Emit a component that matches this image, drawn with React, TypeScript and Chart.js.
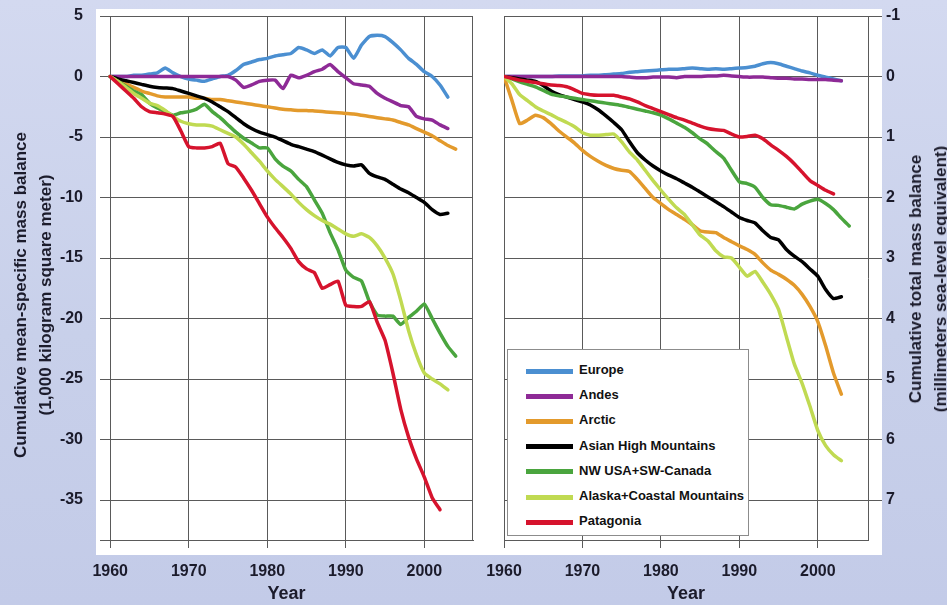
import React, { useEffect, useRef } from 'react';
import { Chart, registerables } from 'chart.js';

Chart.register(...registerables);

// ---- data ---------------------------------------------------------------

const years = [
  1960, 1961, 1962, 1963, 1964, 1965, 1966, 1967, 1968, 1969,
  1970, 1971, 1972, 1973, 1974, 1975, 1976, 1977, 1978, 1979,
  1980, 1981, 1982, 1983, 1984, 1985, 1986, 1987, 1988, 1989,
  1990, 1991, 1992, 1993, 1994, 1995, 1996, 1997, 1998, 1999,
  2000, 2001, 2002, 2003, 2004,
];

const yearTicks = [1960, 1970, 1980, 1990, 2000];
const specificTicks = [5, 0, -5, -10, -15, -20, -25, -30, -35];
const totalTicks = [-1, 0, 1, 2, 3, 4, 5, 6, 7];

const regions = [
  'Europe',
  'Andes',
  'Arctic',
  'Asian High Mountains',
  'NW USA+SW-Canada',
  'Alaska+Coastal Mountains',
  'Patagonia',
];

const regionColors = ['#4b8fd1', '#8e2a96', '#e39a2c', '#000000', '#4aa53e', '#c0da52', '#d6132d'];

// Cumulative mean-specific mass balance (1,000 kg per square meter)
const specificEurope = [
  0, 0, 0, 0.1, 0.1, 0.2, 0.3, 0.7, 0.3, 0,
  -0.2, -0.3, -0.4, -0.2, 0, 0.1, 0.5, 1.0, 1.2, 1.4,
  1.5, 1.7, 1.8, 1.9, 2.4, 2.2, 1.9, 2.2, 1.7, 2.4,
  2.4, 1.5, 2.6, 3.3, 3.4, 3.3, 2.8, 2.2, 1.5, 1.0,
  0.4, 0.0, -0.7, -1.7, null,
];
const specificAndes = [
  0, 0, 0, 0, 0, 0, 0, 0, 0, 0,
  0, 0, 0, 0, 0, 0, -0.3, -0.9, -0.7, -0.4,
  -0.3, -0.3, -1.0, 0.1, -0.1, 0.1, 0.4, 0.6, 1.0, 0.4,
  -0.1, -0.6, -0.7, -0.8, -1.4, -1.8, -2.1, -2.4, -2.5, -3.3,
  -3.5, -3.6, -4.0, -4.3, null,
];
const specificArctic = [
  0, -0.3, -0.6, -0.9, -1.2, -1.4, -1.6, -1.7, -1.7, -1.7,
  -1.7, -1.8, -1.8, -1.9, -1.9, -2.0, -2.1, -2.2, -2.3, -2.4,
  -2.5, -2.6, -2.7, -2.75, -2.8, -2.8, -2.85, -2.9, -2.95, -3.0,
  -3.05, -3.1, -3.2, -3.3, -3.4, -3.5, -3.6, -3.8, -4.0, -4.3,
  -4.6, -4.9, -5.3, -5.7, -6.0,
];
const specificAsia = [
  0, -0.2, -0.35, -0.5, -0.65, -0.8, -0.9, -0.95, -1.0, -1.2,
  -1.4, -1.6, -1.8, -2.1, -2.5, -2.9, -3.4, -3.9, -4.3, -4.6,
  -4.8, -5.0, -5.3, -5.6, -5.8, -6.0, -6.2, -6.5, -6.8, -7.1,
  -7.3, -7.4, -7.3, -8.0, -8.3, -8.5, -8.9, -9.3, -9.6, -10.0,
  -10.4, -11.0, -11.4, -11.3, null,
];
const specificNwUsa = [
  0, -0.4, -0.8, -1.2, -1.5, -2.2, -2.6, -2.9, -3.2, -3.0,
  -2.9, -2.7, -2.3, -2.9, -3.4, -4.0, -4.6, -5.1, -5.5, -5.9,
  -5.9, -6.8, -7.4, -7.8, -8.5, -9.1, -10.2, -11.3, -12.9, -14.3,
  -16.0, -16.6, -16.9, -18.6, -19.7, -19.8, -19.8, -20.5, -19.9, -19.4,
  -18.8, -20.0, -21.2, -22.3, -23.1,
];
const specificAlaska = [
  0, -0.4, -0.9, -1.4, -1.8, -2.2, -2.4, -2.8, -3.3, -3.7,
  -3.9, -4.0, -4.0, -4.1, -4.4, -4.7, -5.0, -5.6, -6.3, -7.0,
  -7.8, -8.5, -9.1, -9.7, -10.4, -11.0, -11.5, -11.9, -12.2, -12.6,
  -13.0, -13.2, -13.0, -13.3, -14.0, -15.0, -16.3, -18.5, -21.0, -23.0,
  -24.5, -25.0, -25.4, -25.9, null,
];
const specificPatagonia = [
  0, -0.6, -1.2, -1.8, -2.5, -2.9, -3.0, -3.1, -3.3, -4.5,
  -5.8, -5.9, -5.9, -5.8, -5.5, -7.2, -7.5, -8.4, -9.4, -10.5,
  -11.6, -12.5, -13.3, -14.2, -15.3, -15.9, -16.2, -17.5, -17.2, -16.9,
  -18.9, -19.0, -19.0, -18.6, -20.3, -21.8, -24.5, -27.5, -29.8, -31.6,
  -33.1, -34.8, -35.8, null, null,
];

// Cumulative total mass balance (mm sea-level equivalent)
const totalEurope = [
  0, 0, 0, 0, 0, 0, 0, -0.01, -0.01, -0.01,
  -0.01, -0.02, -0.02, -0.03, -0.04, -0.05, -0.07, -0.08, -0.09, -0.1,
  -0.11, -0.12, -0.12, -0.13, -0.14, -0.13, -0.12, -0.13, -0.12, -0.13,
  -0.14, -0.15, -0.17, -0.21, -0.23, -0.21, -0.17, -0.13, -0.09, -0.06,
  -0.02, 0.01, 0.04, 0.07, null,
];
const totalAndes = [
  0, 0, 0, 0, 0, 0, 0, 0, 0, 0,
  0, 0, 0, 0, 0, 0, 0.01, 0.02, 0.02, 0.01,
  0.01, 0.01, 0.02, 0, 0, 0, -0.01, -0.01, -0.02, -0.01,
  0, 0.01, 0.01, 0.01, 0.02, 0.03, 0.03, 0.04, 0.04, 0.05,
  0.05, 0.05, 0.06, 0.07, null,
];
const totalArctic = [
  0, 0.39, 0.78, 0.72, 0.64, 0.68, 0.78, 0.9, 1.0, 1.1,
  1.22, 1.32, 1.4, 1.47, 1.52, 1.55, 1.57, 1.7, 1.85, 2.0,
  2.1, 2.2, 2.28, 2.36, 2.45, 2.55, 2.57, 2.58, 2.66, 2.73,
  2.8, 2.86, 2.94, 3.08, 3.2, 3.27, 3.35, 3.45, 3.6, 3.8,
  4.05, 4.45, 4.9, 5.25, null,
];
const totalAsia = [
  0, 0.02, 0.04, 0.06, 0.08, 0.15, 0.24, 0.3, 0.34, 0.38,
  0.42, 0.47, 0.55, 0.65, 0.76, 0.88, 1.08, 1.26, 1.38, 1.48,
  1.56, 1.63, 1.69, 1.76, 1.83, 1.91, 1.99, 2.07, 2.15, 2.24,
  2.33, 2.38, 2.42, 2.55, 2.66, 2.7, 2.86, 2.97, 3.06, 3.18,
  3.3, 3.52, 3.67, 3.64, null,
];
const totalNwUsa = [
  0, 0.04, 0.09, 0.13, 0.17, 0.23, 0.29, 0.32, 0.34, 0.36,
  0.38, 0.4, 0.42, 0.44, 0.46, 0.48, 0.51, 0.54, 0.57, 0.6,
  0.64, 0.7, 0.77, 0.84, 0.93, 1.03, 1.12, 1.24, 1.35, 1.55,
  1.74, 1.77, 1.83, 2.0, 2.12, 2.13, 2.16, 2.19, 2.11, 2.06,
  2.03, 2.1, 2.2, 2.34, 2.47,
];
const totalAlaska = [
  0, 0.12, 0.3, 0.4, 0.5, 0.57, 0.63, 0.7, 0.76, 0.83,
  0.93, 0.97, 0.97, 0.96, 0.95, 1.08, 1.25, 1.38, 1.55, 1.72,
  1.88, 2.03, 2.17, 2.28, 2.45, 2.62, 2.72, 2.88, 2.98, 3.0,
  3.15, 3.3, 3.22, 3.4, 3.6, 3.85, 4.3, 4.75, 5.07, 5.45,
  5.85, 6.1, 6.25, 6.35, null,
];
const totalPatagonia = [
  0, 0.03, 0.06, 0.08, 0.1, 0.12, 0.14, 0.15, 0.17, 0.22,
  0.28, 0.3, 0.31, 0.31, 0.31, 0.34, 0.37, 0.42, 0.48, 0.53,
  0.58, 0.63, 0.68, 0.72, 0.77, 0.82, 0.86, 0.88, 0.89, 0.95,
  1.0, 0.99, 0.97, 1.03, 1.13, 1.22, 1.32, 1.44, 1.58, 1.72,
  1.8, 1.88, 1.94, null, null,
];

const specificSeries = [
  specificEurope, specificAndes, specificArctic, specificAsia,
  specificNwUsa, specificAlaska, specificPatagonia,
];
const totalSeries = [
  totalEurope, totalAndes, totalArctic, totalAsia,
  totalNwUsa, totalAlaska, totalPatagonia,
];

// ---- styling --------------------------------------------------------------

const FONT = "'Liberation Sans', Arial, Helvetica, sans-serif";
const INK = '#1b1b2b';
const GRID = '#5a5a5a';
const tickFont = { family: FONT, size: 16, weight: 'bold' as const };

function buildDatasets(series: (number | null)[][]) {
  return regions.map((name, i) => ({
    label: name,
    data: years.map((yr, j) => ({ x: yr, y: series[i][j] })),
    borderColor: regionColors[i],
    backgroundColor: regionColors[i],
    borderWidth: 3.5,
    pointRadius: 0,
    tension: 0.15,
    fill: false,
    borderJoinStyle: 'round' as const,
    borderCapStyle: 'round' as const,
    // later regions are painted over earlier ones
    order: regions.length - i,
  }));
}

// fixed axis boxes so both plot areas line up exactly
function fixWidth(w: number) {
  return (s: any) => {
    s.width = w;
    s.paddingTop = 0;
    s.paddingBottom = 0;
  };
}
function fixHeight(h: number) {
  return (s: any) => {
    s.height = h;
    s.paddingLeft = 0;
    s.paddingRight = 0;
  };
}

function yearScale(min: number, max: number) {
  return {
    type: 'linear' as const,
    min,
    max,
    afterBuildTicks: (s: any) => {
      s.ticks = yearTicks.map((v) => ({ value: v }));
    },
    afterFit: fixHeight(65),
    grid: { color: GRID, lineWidth: 1, drawTicks: true, tickLength: 8 },
    border: { display: true, color: GRID, width: 1 },
    ticks: {
      padding: 14,
      color: INK,
      font: tickFont,
      maxRotation: 0,
      autoSkip: false,
      callback: (v: any) => String(v),
    },
    title: {
      display: true,
      text: 'Year',
      color: INK,
      font: { family: FONT, size: 18, weight: 'bold' as const },
      padding: 0,
    },
  };
}

// closes the plot frame on the right-hand side of the left panel
const rightFrame = {
  id: 'rightFrame',
  beforeDatasetsDraw(chart: any) {
    const { ctx, chartArea: a } = chart;
    ctx.save();
    ctx.strokeStyle = GRID;
    ctx.lineWidth = 1;
    ctx.beginPath();
    ctx.moveTo(Math.round(a.right) - 0.5, a.top);
    ctx.lineTo(Math.round(a.right) - 0.5, a.bottom);
    ctx.stroke();
    ctx.restore();
  },
};

const baseOptions = {
  responsive: false,
  maintainAspectRatio: false,
  animation: false as const,
  devicePixelRatio: 1,
  plugins: { legend: { display: false }, tooltip: { enabled: false } },
};

const titleStyle = (cx: number, cy: number): React.CSSProperties => ({
  position: 'absolute',
  left: cx,
  top: cy,
  transform: 'translate(-50%, -50%) rotate(-90deg)',
  whiteSpace: 'nowrap',
  textAlign: 'center',
  font: `bold 17px ${FONT}`,
  lineHeight: '25px',
  color: INK,
});

export default function App() {
  const leftRef = useRef<HTMLCanvasElement>(null);
  const rightRef = useRef<HTMLCanvasElement>(null);

  useEffect(() => {
    const left = new Chart(leftRef.current as HTMLCanvasElement, {
      type: 'line',
      data: { datasets: buildDatasets(specificSeries) as any },
      options: {
        ...baseOptions,
        layout: { padding: { top: 16, right: 7, left: 0, bottom: 0 } },
        scales: {
          x: yearScale(1958.7, 2006.2),
          y: {
            type: 'linear',
            position: 'left',
            min: -38.3,
            max: 5,
            afterBuildTicks: (s: any) => {
              s.ticks = specificTicks.map((v) => ({ value: v }));
            },
            afterFit: fixWidth(100),
            grid: { color: GRID, lineWidth: 1, drawTicks: false },
            border: { display: false },
            ticks: { padding: 17, color: INK, font: tickFont, callback: (v: any) => String(v) },
          },
        },
      } as any,
      plugins: [rightFrame],
    });

    const right = new Chart(rightRef.current as HTMLCanvasElement, {
      type: 'line',
      data: { datasets: buildDatasets(totalSeries) as any },
      options: {
        ...baseOptions,
        layout: { padding: { top: 16, right: 0, left: 24, bottom: 0 } },
        scales: {
          x: yearScale(1960, 2006.4),
          y: {
            type: 'linear',
            position: 'right',
            reverse: true,
            min: -1,
            max: 7.66,
            afterBuildTicks: (s: any) => {
              s.ticks = totalTicks.map((v) => ({ value: v }));
            },
            afterFit: fixWidth(79),
            grid: { color: GRID, lineWidth: 1, drawTicks: true, tickLength: 14 },
            border: { display: true, color: GRID, width: 1 },
            ticks: { padding: 4, color: INK, font: tickFont, callback: (v: any) => String(v) },
          },
        },
      } as any,
    });

    return () => {
      left.destroy();
      right.destroy();
    };
  }, []);

  return (
    <div
      style={{
        position: 'fixed',
        left: 0,
        top: 0,
        width: 947,
        height: 605,
        overflow: 'hidden',
        background: 'linear-gradient(180deg, #d3d9f0 0%, #c8d0ea 55%, #c3cbe8 100%)',
        fontFamily: FONT,
      }}
    >
      <div style={{ position: 'absolute', left: 96, top: 9, width: 786, height: 546, background: '#ffffff' }} />
      <canvas ref={leftRef} width={480} height={605} style={{ position: 'absolute', left: 0, top: 0 }} />
      <canvas ref={rightRef} width={467} height={605} style={{ position: 'absolute', left: 480, top: 0 }} />

      <div style={titleStyle(33, 295)}>
        Cumulative mean-specific mass balance
        <br />
        (1,000 kilogram square meter)
      </div>
      <div style={titleStyle(927.5, 278.5)}>
        Cumulative total mass balance
        <br />
        (millimeters sea-level equivalent)
      </div>

      <div
        style={{
          position: 'absolute',
          left: 507,
          top: 349,
          width: 240,
          height: 185,
          background: '#ffffff',
          border: '1px solid #8c8c8c',
        }}
      >
        {regions.map((name, i) => (
          <div key={name} style={{ position: 'absolute', left: 0, top: 21 + i * 25.2, width: 240, height: 0 }}>
            <div
              style={{
                position: 'absolute',
                left: 18,
                top: -2.5,
                width: 47,
                height: 5,
                background: regionColors[i],
              }}
            />
            <div
              style={{
                position: 'absolute',
                left: 71,
                top: -9,
                height: 18,
                lineHeight: '18px',
                font: `bold 13px ${FONT}`,
                color: '#111111',
                whiteSpace: 'nowrap',
              }}
            >
              {name}
            </div>
          </div>
        ))}
      </div>
    </div>
  );
}
